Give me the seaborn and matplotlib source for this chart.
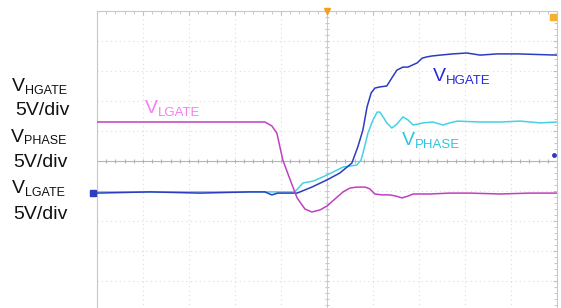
import numpy as np
import pandas as pd
import seaborn as sns
from matplotlib import pyplot as plt

# ===================================================================
# Scope traces (x and y in divisions)
# x: 0..10 div, y: -5..5 div around the centre line
# ===================================================================
lgate_t = [0.0, 3.65, 3.8, 3.91, 4.04, 4.2, 4.35, 4.52, 4.67, 4.85, 5.0, 5.17,
           5.35, 5.5, 5.65, 5.83, 5.93, 6.04, 6.2, 6.37, 6.5, 6.63, 6.76, 6.87,
           7.24, 7.67, 8.11, 8.76, 9.41, 10.0]
lgate_v = [1.3, 1.3, 1.17, 0.93, 0.03, -0.63, -1.23, -1.6, -1.7, -1.63, -1.5, -1.27,
           -1.03, -0.9, -0.87, -0.87, -0.93, -1.1, -1.13, -1.13, -1.17, -1.23, -1.17, -1.1,
           -1.1, -1.07, -1.07, -1.1, -1.07, -1.07]

hgate_t = [0.0, 1.15, 2.24, 3.33, 3.65, 3.8, 3.93, 4.35, 4.67, 5.0, 5.28, 5.54,
           5.67, 5.78, 5.87, 5.96, 6.04, 6.15, 6.3, 6.41, 6.52, 6.65, 6.76, 6.96,
           7.07, 7.17, 7.28, 7.46, 7.74, 8.04, 8.33, 8.7, 9.15, 10.0]
hgate_v = [-1.07, -1.03, -1.07, -1.03, -1.03, -1.13, -1.07, -1.07, -0.87, -0.63, -0.4, -0.07,
           0.47, 1.03, 1.8, 2.27, 2.43, 2.47, 2.5, 2.77, 3.03, 3.13, 3.13, 3.27,
           3.43, 3.47, 3.5, 3.53, 3.57, 3.6, 3.53, 3.57, 3.57, 3.53]

phase_t = [0.0, 1.15, 2.24, 3.33, 4.3, 4.48, 4.7, 4.91, 5.13, 5.35, 5.5, 5.65,
           5.74, 5.8, 5.89, 6.0, 6.09, 6.15, 6.22, 6.3, 6.41, 6.52, 6.65, 6.76,
           6.87, 6.98, 7.09, 7.3, 7.52, 7.67, 7.83, 8.33, 8.76, 9.2, 9.63, 10.0]
phase_v = [-1.03, -1.03, -1.03, -1.03, -1.03, -0.73, -0.67, -0.53, -0.37, -0.2, -0.17, -0.13,
           0.03, 0.37, 0.93, 1.37, 1.63, 1.63, 1.47, 1.27, 1.1, 1.23, 1.47, 1.37,
           1.2, 1.23, 1.27, 1.3, 1.2, 1.27, 1.33, 1.3, 1.3, 1.33, 1.27, 1.3]

W, H = 561, 308
fig = plt.figure(figsize=(W / 100, H / 100), dpi=100)
sns.set_style("white")
plt.rcParams['font.family'] = ['Liberation Sans', 'DejaVu Sans']

# screen area: x 97..557 px, y 11..311 px (bottom is cut off)
ax = fig.add_axes([97 / W, 1 - 311 / H, 460 / W, 300 / H])
ax.set_xlim(0, 10)
ax.set_ylim(-5, 5)

# graticule
for gx in range(1, 10):
    if gx != 5:
        ax.axvline(gx, color='#dcdcdc', lw=0.8, ls=(0, (1, 3)), zorder=0)
for gy in range(-4, 5):
    if gy != 0:
        ax.axhline(gy, color='#dcdcdc', lw=0.8, ls=(0, (1, 3)), zorder=0)
ax.axvline(5, color='#cccccc', lw=0.7, zorder=0)
ax.axhline(0, color='#b4b4b4', lw=0.8, zorder=0)
minor_x = np.arange(0, 10.01, 0.2)
minor_y = np.arange(-5, 5.01, 0.2)
ax.plot(minor_x, np.zeros_like(minor_x), '|', color='#b4b4b4', ms=3.5, mew=0.8, zorder=0)
ax.plot(np.full_like(minor_y, 5), minor_y, '_', color='#c8c8c8', ms=3.5, mew=0.8, zorder=0)

ax.set_xticks(np.arange(0, 10.01, 1))
ax.set_yticks(np.arange(-5, 5.01, 1))
ax.set_xticks(minor_x, minor=True)
ax.set_yticks(minor_y, minor=True)
ax.tick_params(which='both', direction='in', top=True, right=True, bottom=False,
               labelbottom=False, labelleft=False, color='#c0c0c0')
ax.tick_params(which='major', length=3)
ax.tick_params(which='minor', length=2)
for side in ax.spines.values():
    side.set_color('#c8c8c8')
    side.set_linewidth(0.8)

sns.lineplot(x='t', y='v', data=pd.DataFrame({'t': phase_t, 'v': phase_v}), ax=ax,
             color='#45d2e6', lw=1.1, zorder=3)
sns.lineplot(x='t', y='v', data=pd.DataFrame({'t': hgate_t, 'v': hgate_v}), ax=ax,
             color='#2c3cc0', lw=1.1, zorder=4)
sns.lineplot(x='t', y='v', data=pd.DataFrame({'t': lgate_t, 'v': lgate_v}), ax=ax,
             color='#c040c0', lw=1.1, zorder=5)
ax.set_xlabel('')
ax.set_ylabel('')

# channel / trigger markers
ax.plot([-0.08], [hgate_v[0]], 's', color='#2c3cc0', ms=5, clip_on=False, zorder=6)
ax.plot([5.0], [5.0], 'v', color='#f0a020', ms=4, clip_on=False, zorder=6)
ax.plot([9.92], [4.8], 's', color='#f5b030', ms=4, clip_on=False, zorder=6)
ax.plot([9.93], [0.2], 'o', color='#2c3cc0', ms=2.5, clip_on=False, zorder=6)


def label(x, y, main, sub, color, big=14, small=8.5, dy=2.5, dx=0):
    t = fig.text(x / W, 1 - y / H, main, color=color, fontsize=big, va='baseline')
    fig.canvas.draw()
    bb = t.get_window_extent()
    fig.text((bb.x1 + dx) / W, 1 - (y + dy) / H, sub, color=color, fontsize=small,
             va='baseline')


# left side labels
label(12, 91, 'V', 'HGATE', '#111111', small=9)
fig.text(15 / W, 1 - 115 / H, '5V/div', color='#111111', fontsize=14, va='baseline')
label(11, 142, 'V', 'PHASE', '#111111', small=9)
fig.text(13 / W, 1 - 167 / H, '5V/div', color='#111111', fontsize=14, va='baseline')
label(12, 193, 'V', 'LGATE', '#111111', small=9)
fig.text(13 / W, 1 - 219 / H, '5V/div', color='#111111', fontsize=14, va='baseline')

# trace labels
label(145, 113, 'V', 'LGATE', '#f47ef2', small=9.5, dy=3.5)
label(433, 81, 'V', 'HGATE', '#2828dc', small=9.5, dy=2.5)
label(402, 145, 'V', 'PHASE', '#2ec4e0', small=9.5, dy=2.5)

plt.savefig('out.png', dpi=100)
